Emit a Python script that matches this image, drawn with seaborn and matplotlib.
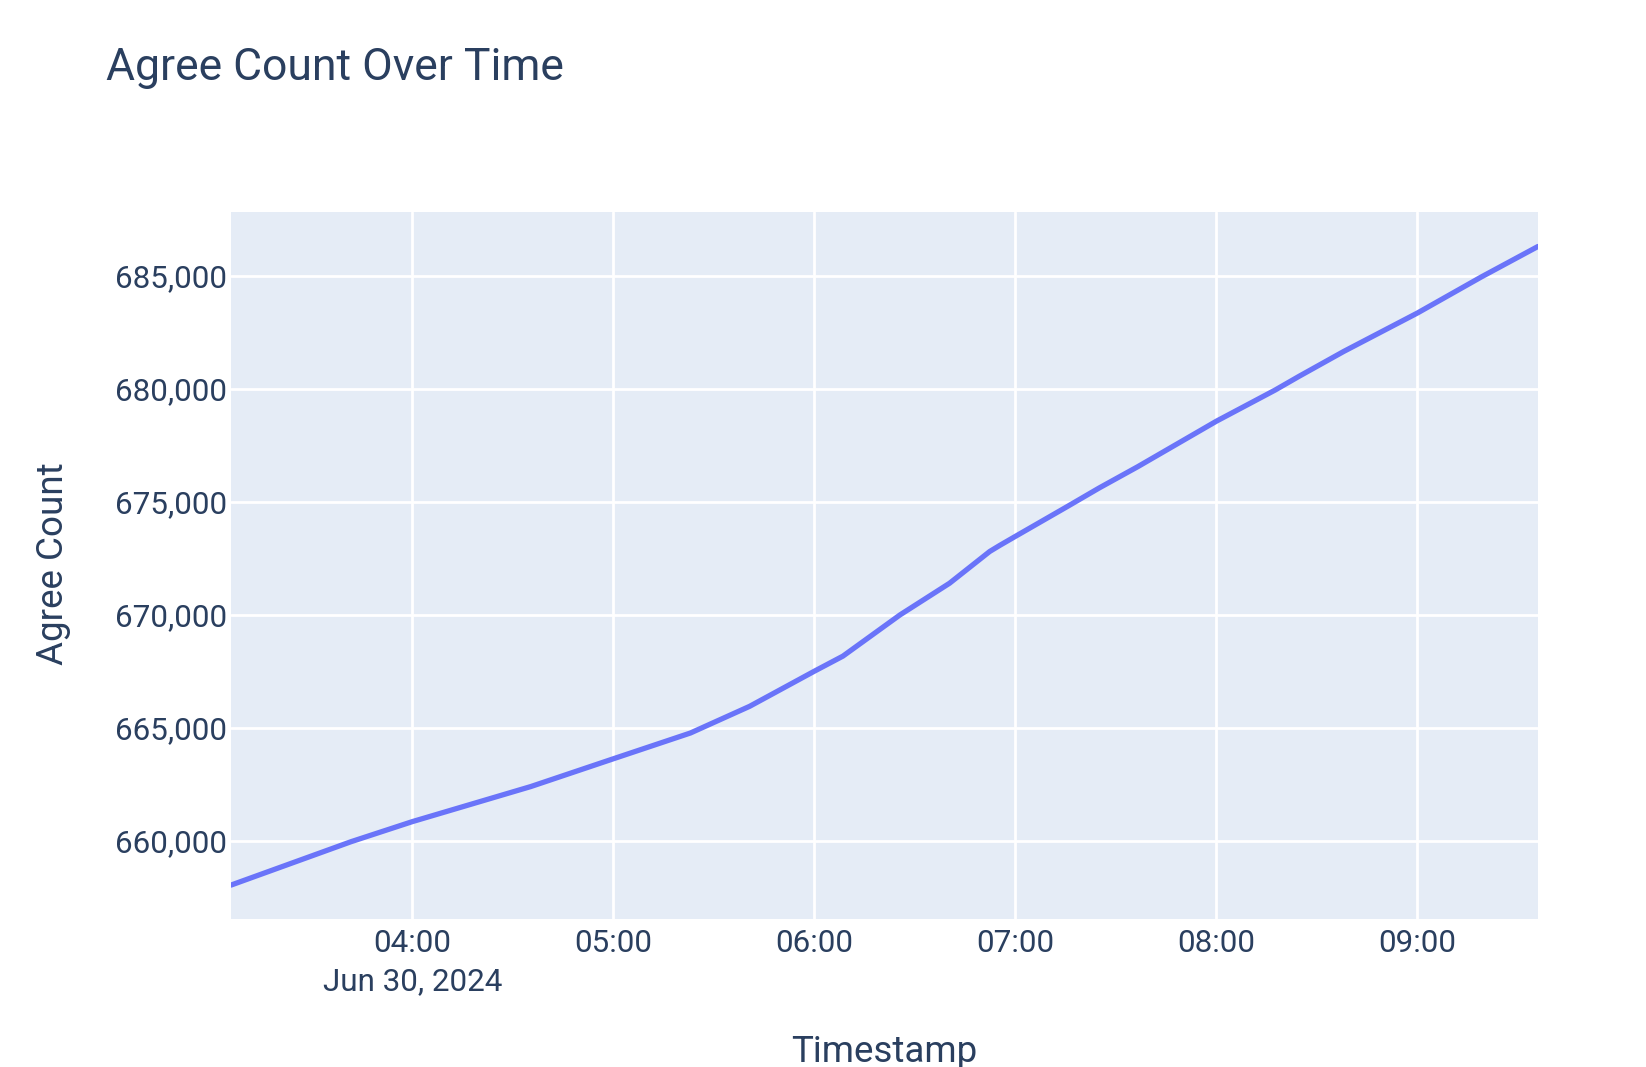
import pandas as pd
import matplotlib
matplotlib.use("Agg")
import matplotlib.pyplot as plt
import matplotlib.ticker as mticker
import seaborn as sns

# values
DAY = "2024-06-30"
TIMES = ["03:05:50", "03:41:40", "04:00:00", "04:35:20", "05:00:00", "05:23:00",
         "05:40:40", "06:00:00", "06:08:30", "06:25:30", "06:40:20", "06:52:20", "06:55:20",
         "07:00:00", "07:15:30", "07:25:00", "07:36:30", "08:00:00", "08:17:30", "08:24:40",
         "08:38:00", "09:00:00", "09:19:00", "09:36:00"]
AGREE = [658050, 659970, 660860, 662410, 663640, 664780,
         665960, 667515, 668180, 670000, 671405, 672811, 673080,
         673480, 674800, 675620, 676560, 678575, 679950, 680560,
         681660, 683360, 684950, 686306]

X_TICKS = ["04:00", "05:00", "06:00", "07:00", "08:00", "09:00"]
X_TICK_DATE = "Jun 30, 2024"
Y_TICKS = [660000, 665000, 670000, 675000, 680000, 685000]
Y_RANGE = (656550, 687830)

TEXT_COLOR = "#2a3f5f"
LINE_COLOR = "#636efa"

df = pd.DataFrame({
    "Timestamp": pd.to_datetime([f"{DAY} {t}" for t in TIMES], format="%Y-%m-%d %H:%M:%S"),
    "Agree Count": AGREE,
})

sns.set_theme(style="darkgrid", rc={
    "axes.facecolor": "#E5ECF6",
    "grid.color": "white",
    "grid.linewidth": 2.0,
    "axes.edgecolor": "#E5ECF6",
})
plt.rcParams["font.family"] = ["Roboto", "DejaVu Sans"]

fig = plt.figure(figsize=(16.46, 10.67), dpi=100)
ax = fig.add_axes([231 / 1646, 1 - 919 / 1067, 1307 / 1646, 707 / 1067])

sns.lineplot(data=df, x="Timestamp", y="Agree Count", ax=ax,
             color=LINE_COLOR, linewidth=3.8, alpha=0.95)

ax.set_xlim(df["Timestamp"].min(), df["Timestamp"].max())
ax.set_ylim(*Y_RANGE)

tick_pos = pd.to_datetime([f"{DAY} {t}" for t in X_TICKS], format="%Y-%m-%d %H:%M")
tick_lbl = [X_TICKS[0] + "\n" + X_TICK_DATE] + X_TICKS[1:]
ax.set_xticks(tick_pos, tick_lbl)
ax.set_yticks(Y_TICKS)
ax.yaxis.set_major_formatter(mticker.FuncFormatter(lambda v, p: f"{int(v):,}"))

ax.tick_params(axis="both", length=0, labelsize=22.6, labelcolor=TEXT_COLOR)
ax.tick_params(axis="x", pad=7)
ax.tick_params(axis="y", pad=3)
for lbl in ax.get_xticklabels():
    lbl.set_linespacing(1.4)

ax.set_xlabel("")
ax.set_ylabel("")
sns.despine(ax=ax, left=True, bottom=True)

fig.text(106 / 1646, 1 - 80 / 1067, "Agree Count Over Time", fontsize=32,
         color=TEXT_COLOR, ha="left", va="baseline")
fig.text(53 / 1646, 1 - 564 / 1067, "Agree Count", fontsize=26.5, rotation=90,
         color=TEXT_COLOR, ha="center", va="center")
fig.text(884 / 1646, 1 - 1034 / 1067, "Timestamp", fontsize=26.5,
         color=TEXT_COLOR, ha="center", va="top")

fig.savefig("out.png", dpi=100, facecolor="white")
plt.close(fig)
